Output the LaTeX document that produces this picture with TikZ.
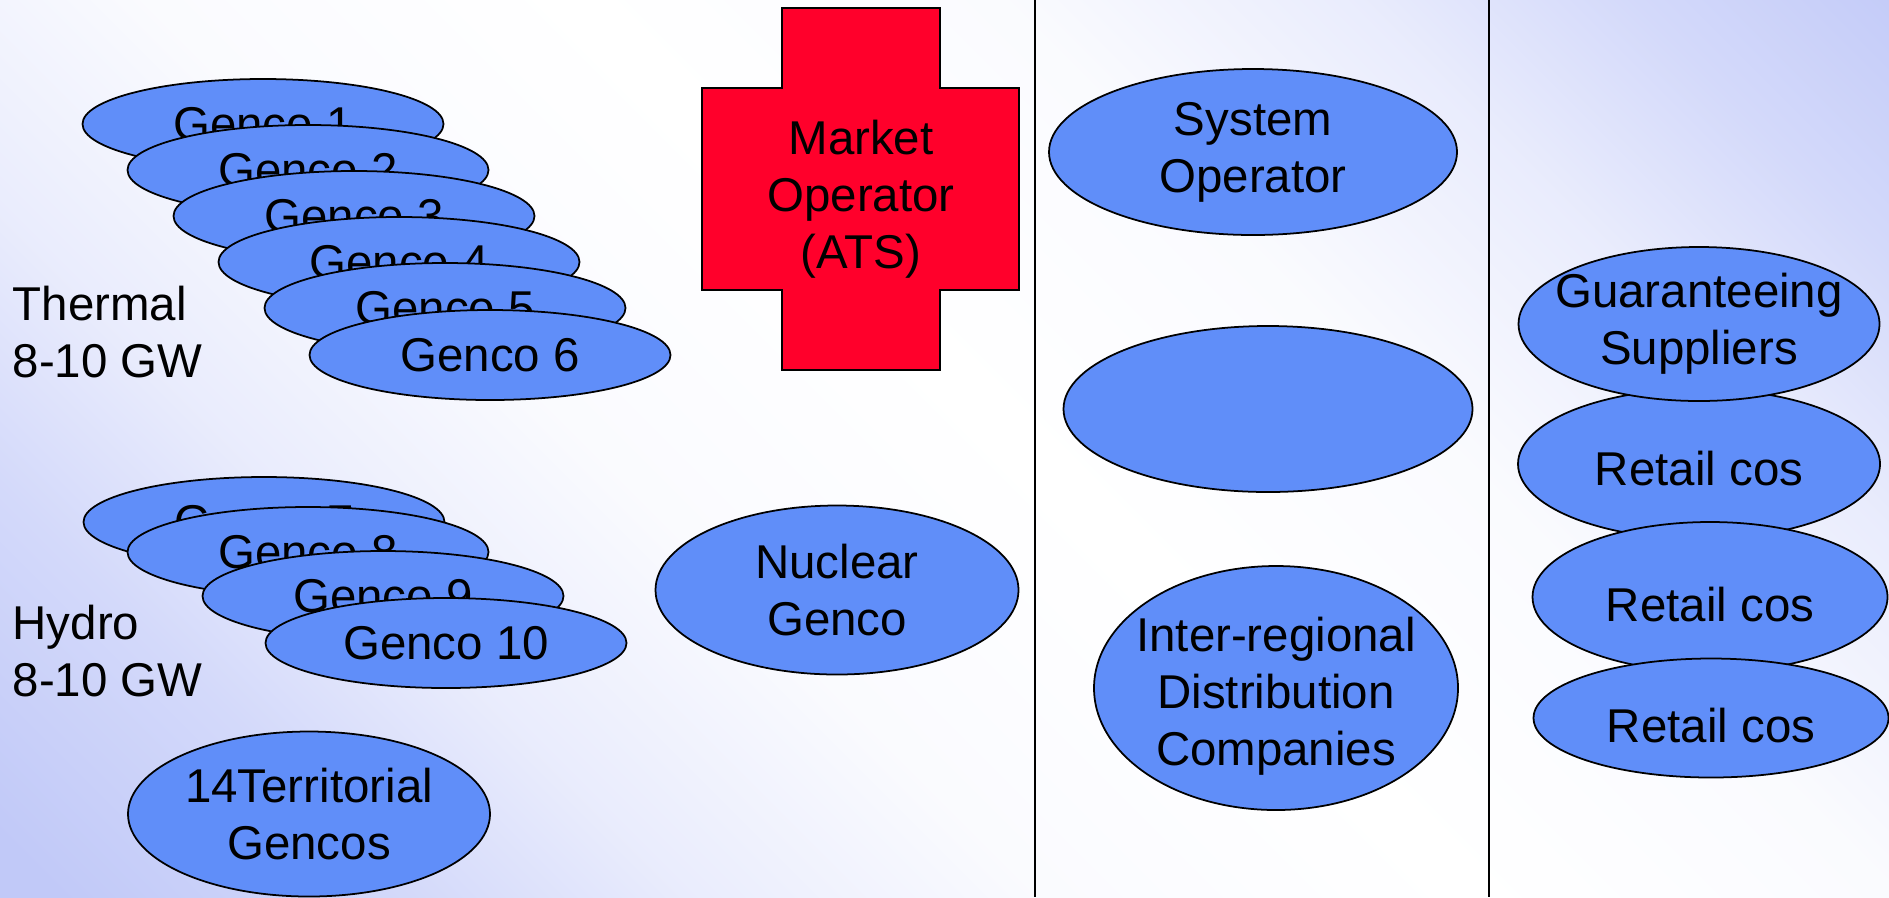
\documentclass[tikz,border=0pt]{standalone}
\usepackage{fontspec}
\setmainfont{Liberation Sans}
\usetikzlibrary{shapes.geometric}
\definecolor{colorBG}{HTML}{C1C9F8}
\definecolor{colorE}{HTML}{608EF9}
\definecolor{colorM}{HTML}{FF002B}

\pgfdeclareverticalshading{bgfade}{100bp}{color(0bp)=(colorBG); color(16bp)=(colorBG); color(25bp)=(colorBG!70); color(32bp)=(colorBG!35); color(41bp)=(colorBG!8); color(52bp)=(white); color(63bp)=(colorBG!8); color(72bp)=(colorBG!35); color(79bp)=(colorBG!70); color(87bp)=(colorBG); color(100bp)=(colorBG)}

\tikzset{
    blob/.style={ellipse, draw=black, fill=colorE, line width=0.5pt, inner sep=0pt},
    genco/.style={blob, minimum width=3.61cm, minimum height=0.9cm},
    lbl/.style={align=center, inner sep=0pt, font=\fontsize{13.5}{16.3}\selectfont},
}

\begin{document}
\begin{tikzpicture}
        \useasboundingbox (0,0) rectangle (18.89,-8.97);
        \shade[shading=bgfade, shading angle=-45] (0,0) rectangle (18.89,-8.97);

        \draw[line width=0.5pt] (10.35,0) -- (10.35,-8.97);
        \draw[line width=0.5pt] (14.89,0) -- (14.89,-8.97);

        % thermal gencos
        \node[lbl, anchor=west, align=left] (thermal) at (0.12,-3.32) {Thermal\\8-10 GW};
        \node[genco] (genco1) at (2.63,-1.24) {};
        \node[lbl] (genco1-t) at (genco1) {Genco 1};
        \node[genco] (genco2) at (3.08,-1.70) {};
        \node[lbl] (genco2-t) at (genco2) {Genco 2};
        \node[genco] (genco3) at (3.54,-2.16) {};
        \node[lbl] (genco3-t) at (genco3) {Genco 3};
        \node[genco] (genco4) at (3.99,-2.62) {};
        \node[lbl] (genco4-t) at (genco4) {Genco 4};
        \node[genco] (genco5) at (4.45,-3.08) {};
        \node[lbl] (genco5-t) at (genco5) {Genco 5};
        \node[genco] (genco6) at (4.90,-3.55) {};
        \node[lbl] (genco6-t) at (genco6) {Genco 6};

        % hydro gencos
        \node[lbl, anchor=west, align=left] (hydro) at (0.12,-6.51) {Hydro\\8-10 GW};
        \node[genco] (genco7) at (2.64,-5.22) {};
        \node[lbl] (genco7-t) at (genco7) {Genco 7};
        \node[genco] (genco8) at (3.08,-5.52) {};
        \node[lbl] (genco8-t) at (genco8) {Genco 8};
        \node[genco] (genco9) at (3.83,-5.96) {};
        \node[lbl] (genco9-t) at (genco9) {Genco 9};
        \node[genco] (genco10) at (4.46,-6.43) {};
        \node[lbl] (genco10-t) at (genco10) {Genco 10};

        \node[blob, minimum width=3.62cm, minimum height=1.65cm] (tgk) at (3.09,-8.14) {};
        \node[lbl] (tgk-t) at (tgk) {14Territorial\\Gencos};

        % market operator
        \filldraw[fill=colorM, line width=0.5pt] (7.82,-0.08) -- (9.40,-0.08) -- (9.40,-0.88) -- (10.19,-0.88) -- (10.19,-2.90) -- (9.40,-2.90) -- (9.40,-3.70) -- (7.82,-3.70) -- (7.82,-2.90) -- (7.02,-2.90) -- (7.02,-0.88) -- (7.82,-0.88) -- cycle;
        \node[lbl] (ats) at (8.61,-1.99) {Market\\Operator\\(ATS)};

        \node[blob, minimum width=3.63cm, minimum height=1.69cm] (nuclear) at (8.37,-5.90) {};
        \node[lbl] (nuclear-t) at (nuclear) {Nuclear\\Genco};

        % networks
        \node[blob, minimum width=4.08cm, minimum height=1.66cm] (so) at (12.53,-1.52) {};
        \node[lbl] (so-t) at (so) {System\\Operator};
        \node[blob, minimum width=4.09cm, minimum height=1.66cm] (blank) at (12.68,-4.09) {};
        \node[blob, minimum width=3.64cm, minimum height=2.44cm] (idc) at (12.76,-6.88) {};
        \node[lbl] (idc-t) at ([yshift=-0.08cm]idc) {Inter-regional\\Distribution\\Companies};

        % suppliers
        \node[blob, minimum width=3.62cm, minimum height=1.50cm] (retail1) at (16.99,-4.64) {};
        \node[lbl] (retail1-t) at ([yshift=-0.05cm]retail1) {Retail cos};
        \node[blob, minimum width=3.61cm, minimum height=1.54cm] (gs) at (16.99,-3.24) {};
        \node[lbl] (gs-t) at (gs) {Guaranteeing\\Suppliers};
        \node[blob, minimum width=3.55cm, minimum height=1.50cm] (retail2) at (17.10,-5.97) {};
        \node[lbl] (retail2-t) at ([yshift=-0.08cm]retail2) {Retail cos};
        \node[blob, minimum width=3.55cm, minimum height=1.19cm] (retail3) at (17.11,-7.18) {};
        \node[lbl] (retail3-t) at ([yshift=-0.08cm]retail3) {Retail cos};
    \end{tikzpicture}
\end{document}
